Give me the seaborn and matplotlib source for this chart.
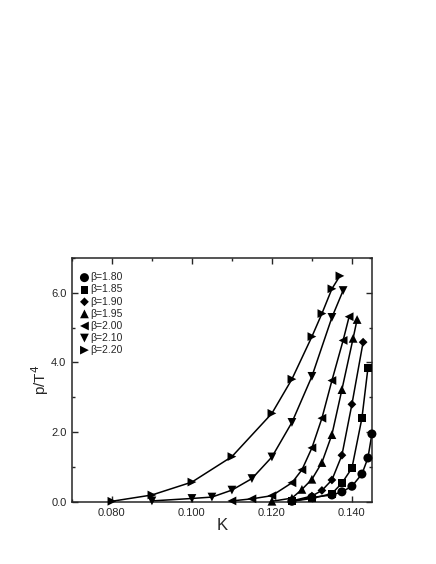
import numpy as np
import pandas as pd
import matplotlib
matplotlib.use('Agg')
import matplotlib.pyplot as plt
import seaborn as sns

# pressure p/T^4 vs hopping parameter K for several beta values
k_180 = [0.125, 0.130, 0.135, 0.1375, 0.140, 0.1425, 0.144, 0.145]
p_180 = [0.02, 0.13, 0.20, 0.29, 0.45, 0.80, 1.26, 1.95]

k_185 = [0.125, 0.130, 0.135, 0.1375, 0.140, 0.1425, 0.144]
p_185 = [0.02, 0.10, 0.24, 0.54, 0.97, 2.40, 3.83]

k_190 = [0.125, 0.130, 0.1325, 0.135, 0.1375, 0.140, 0.1428]
p_190 = [0.03, 0.17, 0.33, 0.63, 1.34, 2.80, 4.58]

k_195 = [0.120, 0.125, 0.1275, 0.130, 0.1325, 0.135, 0.1375, 0.1403, 0.1413]
p_195 = [0.02, 0.11, 0.36, 0.65, 1.13, 1.93, 3.22, 4.69, 5.23]

k_200 = [0.110, 0.115, 0.120, 0.125, 0.1275, 0.130, 0.1325, 0.135, 0.1378, 0.1393]
p_200 = [0.03, 0.09, 0.18, 0.55, 0.92, 1.55, 2.40, 3.48, 4.63, 5.31]

k_210 = [0.090, 0.100, 0.105, 0.110, 0.115, 0.120, 0.125, 0.130, 0.135, 0.1378]
p_210 = [0.03, 0.10, 0.14, 0.34, 0.67, 1.29, 2.28, 3.60, 5.29, 6.06]

k_220 = [0.080, 0.090, 0.100, 0.110, 0.120, 0.125, 0.130, 0.1325, 0.135, 0.137]
p_220 = [0.02, 0.20, 0.57, 1.30, 2.54, 3.52, 4.74, 5.40, 6.11, 6.48]

betas = ['β=1.80', 'β=1.85', 'β=1.90', 'β=1.95', 'β=2.00', 'β=2.10', 'β=2.20']
ks = [k_180, k_185, k_190, k_195, k_200, k_210, k_220]
ps = [p_180, p_185, p_190, p_195, p_200, p_210, p_220]
markers = {'β=1.80': 'o', 'β=1.85': 's', 'β=1.90': 'D', 'β=1.95': '^',
           'β=2.00': '<', 'β=2.10': 'v', 'β=2.20': '>'}
sizes = {'o': 42, 's': 32, 'D': 20, '^': 40, '<': 40, 'v': 40, '>': 40}

frames = []
for b, k, p in zip(betas, ks, ps):
    frames.append(pd.DataFrame({'K': k, 'p': p, 'beta': b}))
df = pd.concat(frames, ignore_index=True)

sns.set_style('ticks')
plt.rcParams['font.family'] = ['Liberation Sans', 'DejaVu Sans']
plt.rcParams['axes.linewidth'] = 1.1

fig = plt.figure(figsize=(4.36, 5.64), dpi=100)
ax = fig.add_axes([0.165, 0.110, 0.688, 0.433])

# connecting lines
sns.lineplot(data=df, x='K', y='p', units='beta', estimator=None,
             color='black', linewidth=1.1, sort=True, legend=False, ax=ax)

# markers, one call per beta so each gets its own size
for b in betas:
    m = markers[b]
    sub = df[df['beta'] == b]
    ax.scatter(sub['K'], sub['p'], marker=m, s=sizes[m], color='black',
               edgecolors='none', zorder=3, label=b, clip_on=False)

ax.set_xlim(0.07, 0.145)
ax.set_ylim(0.0, 7.0)
ax.set_xticks([0.080, 0.100, 0.120, 0.140])
ax.set_xticks(np.arange(0.07, 0.1451, 0.01), minor=True)
ax.set_yticks([0.0, 2.0, 4.0, 6.0])
ax.set_yticks([1.0, 3.0, 5.0, 7.0], minor=True)
ax.xaxis.set_major_formatter(matplotlib.ticker.FormatStrFormatter('%.3f'))
ax.yaxis.set_major_formatter(matplotlib.ticker.FormatStrFormatter('%.1f'))
ax.tick_params(which='both', direction='in', top=True, right=True,
               labelsize=8, width=1.0)
ax.tick_params(which='major', length=4, pad=4)
ax.tick_params(which='minor', length=2.5)
for s in ax.spines.values():
    s.set_visible(True)
    s.set_linewidth(1.1)

ax.set_xlabel('K', fontsize=12, labelpad=0)
ax.set_ylabel('p/T$^{4}$', fontsize=11, labelpad=0)

ax.legend(loc='upper left', frameon=False, fontsize=7.5, handletextpad=0.1,
          labelspacing=0.2, borderaxespad=0.3, handlelength=1.0,
          bbox_to_anchor=(0.0, 0.97))

plt.savefig('out.png', dpi=100)
plt.close()
